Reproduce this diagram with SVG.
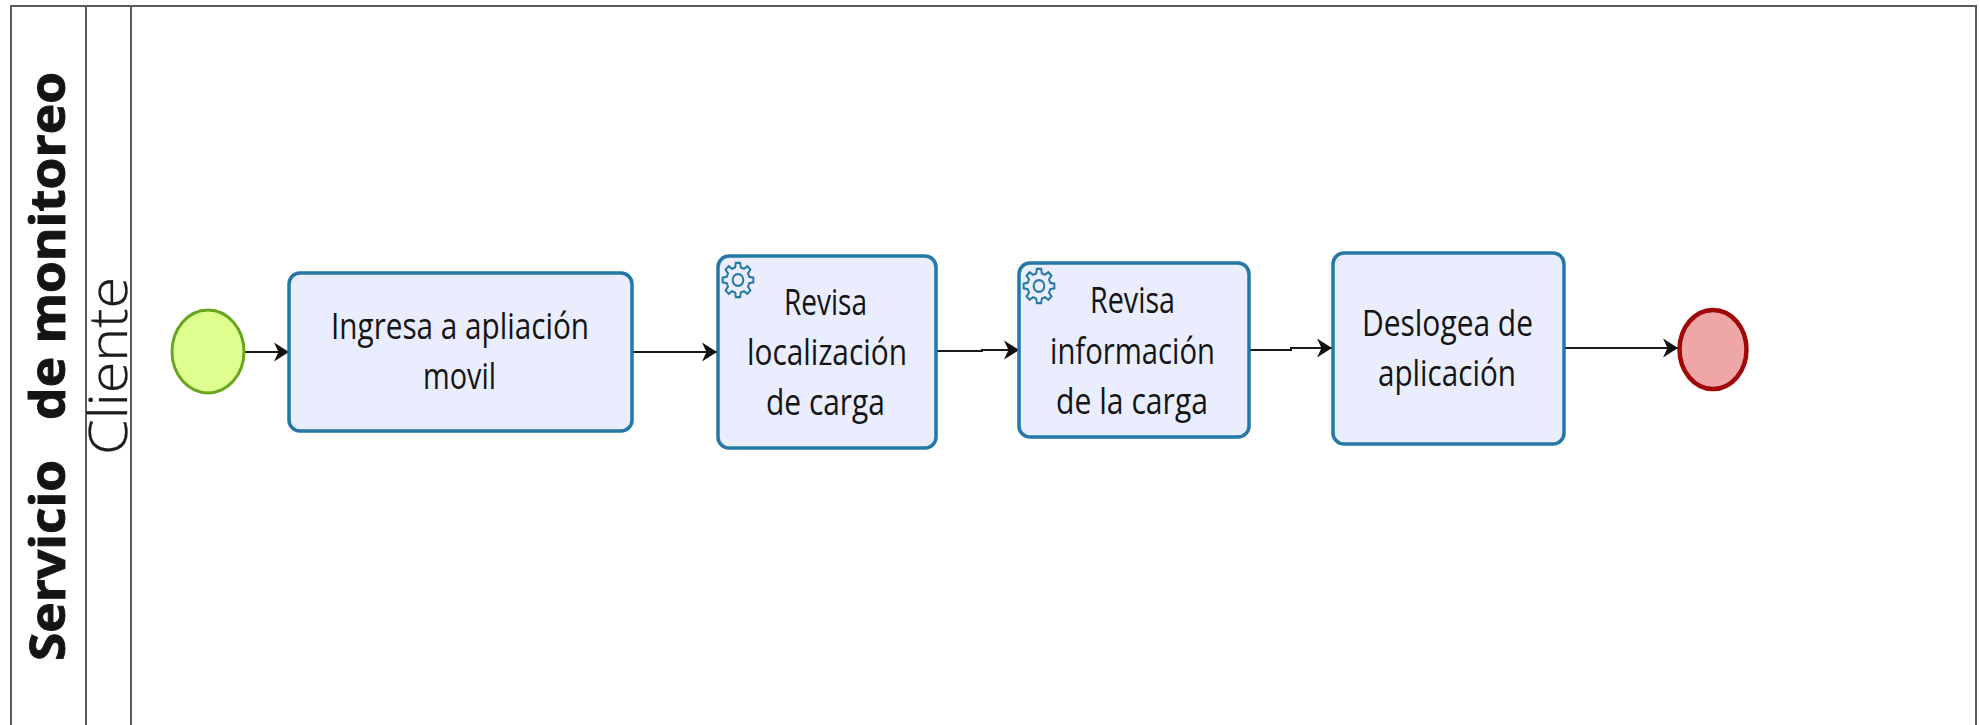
<svg xmlns="http://www.w3.org/2000/svg" width="1980" height="725" viewBox="0 0 1980 725">
<style>
.lane{fill:none;stroke:#5c5c5c;stroke-width:2}
.task{fill:#e9edfe;stroke:#2478a6;stroke-width:3.5}
.lbl{font-family:"Open Sans","Noto Sans",sans-serif;font-size:36px;fill:#141414;text-anchor:start}
.conn{fill:none;stroke:#1a1a1a;stroke-width:2;marker-end:url(#arrow)}
.gearline{fill:none;stroke:#2478a6;stroke-width:2}
</style>
<defs>
<marker id="arrow" markerUnits="userSpaceOnUse" markerWidth="18" markerHeight="22" refX="16" refY="11" orient="auto">
<path d="M1,1.500 L16,11 L1,20.500 L5.500,11 Z" fill="#111"/>
</marker>
<g id="gear" class="gearline">
<path d="M11.64,-2.9L15.84,-2.23L15.84,2.23L11.64,2.9L10.29,6.18L12.78,9.63L9.63,12.78L6.18,10.29L2.9,11.64L2.23,15.84L-2.23,15.84L-2.9,11.64L-6.18,10.29L-9.63,12.78L-12.78,9.63L-10.29,6.18L-11.64,2.9L-15.84,2.23L-15.84,-2.23L-11.64,-2.9L-10.29,-6.18L-12.78,-9.63L-9.63,-12.78L-6.18,-10.29L-2.9,-11.64L-2.23,-15.84L2.23,-15.84L2.9,-11.64L6.18,-10.29L9.63,-12.78L12.78,-9.63L10.29,-6.18Z"/>
<circle r="5.500"/>
</g>
</defs>
<rect width="1980" height="725" fill="#fff"/>
<g id="pool">
<path class="lane" d="M11,725V6H1976V725"/>
<path class="lane" d="M86,6V725M131,6V725"/>
<text transform="translate(65,661) rotate(-90)" font-family="'Open Sans','Noto Sans',sans-serif" font-weight="700" font-size="48" fill="#141414" stroke="#141414" stroke-width="0.900" textLength="589" lengthAdjust="spacingAndGlyphs" style="white-space:pre">Servicio   de monitoreo</text>
<text transform="translate(127,455) rotate(-90)" font-family="'Open Sans','Noto Sans',sans-serif" font-weight="300" font-size="53" fill="#1c1c1c" stroke="#1c1c1c" stroke-width="0.300" textLength="178" lengthAdjust="spacingAndGlyphs">Cliente</text>
</g>
<g id="connectors">
<path class="conn" d="M245,352H289"/>
<path class="conn" d="M632,352H717"/>
<path class="conn" d="M936,351H982V350H1019"/>
<path class="conn" d="M1249,350H1291V348H1332"/>
<path class="conn" d="M1564,348H1678"/>
</g>
<g id="start"><ellipse cx="208" cy="351.500" rx="36" ry="41.500" fill="#dfff8f" stroke="#6aa51e" stroke-width="3"/></g>
<g id="task1">
<rect class="task" x="289" y="273" width="343" height="158" rx="11"/>
<text class="lbl" x="331" y="339" textLength="258" lengthAdjust="spacingAndGlyphs">Ingresa a apliación</text>
<text class="lbl" x="423" y="389" textLength="73" lengthAdjust="spacingAndGlyphs">movil</text>
</g>
<g id="task2">
<rect class="task" x="718" y="256" width="218" height="192" rx="11"/>
<use href="#gear" transform="translate(738,280) scale(.97,1.08)"/>
<text class="lbl" x="784" y="315" textLength="83" lengthAdjust="spacingAndGlyphs">Revisa</text>
<text class="lbl" x="747" y="365" textLength="160" lengthAdjust="spacingAndGlyphs">localización</text>
<text class="lbl" x="766" y="415" textLength="119" lengthAdjust="spacingAndGlyphs">de carga</text>
</g>
<g id="task3">
<rect class="task" x="1019" y="263" width="230" height="174" rx="11"/>
<use href="#gear" transform="translate(1039,286) scale(.97,1.08)"/>
<text class="lbl" x="1090" y="313" textLength="85" lengthAdjust="spacingAndGlyphs">Revisa</text>
<text class="lbl" x="1050" y="364" textLength="165" lengthAdjust="spacingAndGlyphs">información</text>
<text class="lbl" x="1056" y="414" textLength="152" lengthAdjust="spacingAndGlyphs">de la carga</text>
</g>
<g id="task4">
<rect class="task" x="1333" y="253" width="231" height="191" rx="11"/>
<text class="lbl" x="1362" y="336" textLength="171" lengthAdjust="spacingAndGlyphs">Deslogea de</text>
<text class="lbl" x="1378" y="386" textLength="138" lengthAdjust="spacingAndGlyphs">aplicación</text>
</g>
<g id="end"><ellipse cx="1713" cy="349.500" rx="33.500" ry="39.500" fill="#eea6a6" stroke="#a00808" stroke-width="4.500"/></g>
</svg>
